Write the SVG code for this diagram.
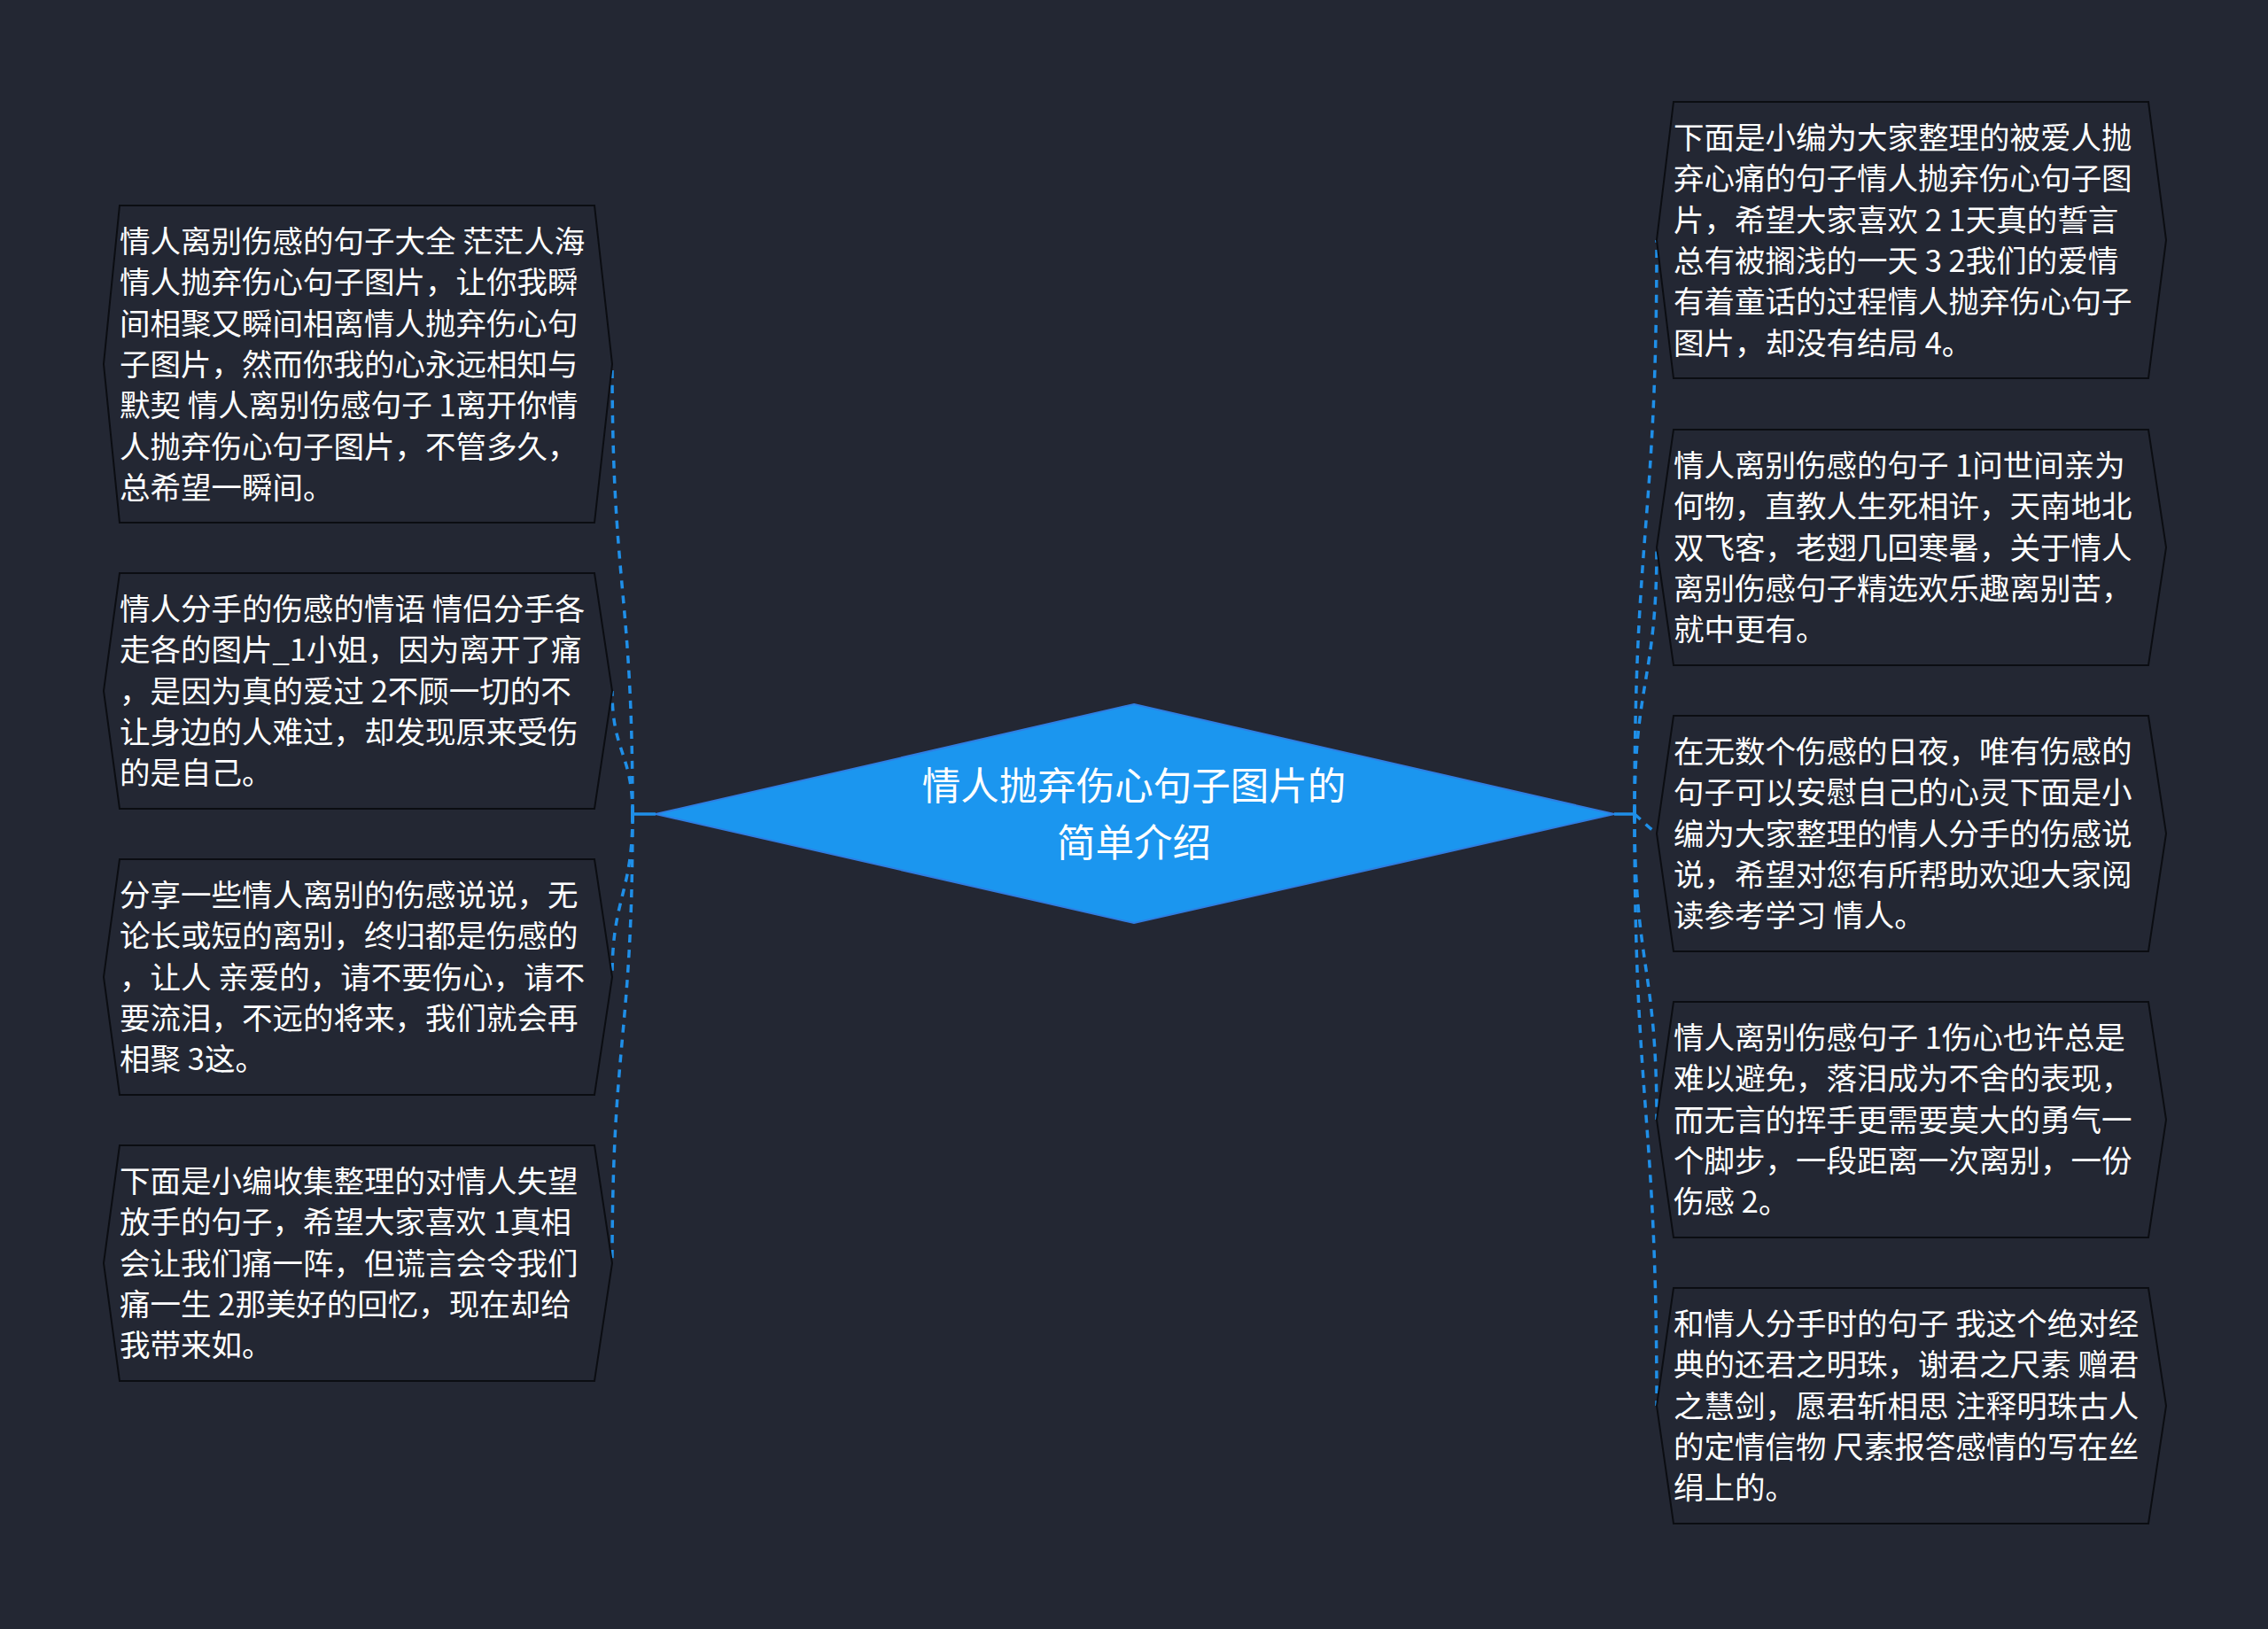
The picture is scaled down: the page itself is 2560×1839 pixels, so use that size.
<svg xmlns="http://www.w3.org/2000/svg" width="2560" height="1839" viewBox="0 0 2560 1839">
<style>
.bg{fill:#232733}
.node{fill:#232733;stroke:#0b0d12;stroke-width:2}
.t{font-family:"Noto Sans CJK SC","Noto Sans",sans-serif;font-size:34.5px;fill:#ffffff}
.ct{font-family:"Noto Sans CJK SC","Noto Sans",sans-serif;font-size:43.5px;fill:#ffffff;text-anchor:middle}
.dash{fill:none;stroke:#1f8fe8;stroke-width:3.5;stroke-dasharray:9 8}
.stub{fill:none;stroke:#1f8fe8;stroke-width:3.5}
</style>
<rect class="bg" x="0" y="0" width="2560" height="1839"/>
<g id="connectors">
<path class="stub" d="M740,919 L714,919 M714,908 L714,930"/>
<path class="stub" d="M1822,919 L1845,919 M1845,908 L1845,930"/>
<path class="dash" d="M714,919 C714,665 691,665 691,411"/>
<path class="dash" d="M714,919 C714,850 691,850 691,780"/>
<path class="dash" d="M714,919 C714,1011 691,1011 691,1103"/>
<path class="dash" d="M714,919 C714,1172 691,1172 691,1426"/>
<path class="dash" d="M1845,919 C1845,595 1870,595 1870,271"/>
<path class="dash" d="M1845,919 C1845,768 1870,768 1870,618"/>
<path class="dash" d="M1845,919 C1852,925 1862,935 1870,941"/>
<path class="dash" d="M1845,919 C1845,1091 1870,1091 1870,1264"/>
<path class="dash" d="M1845,919 C1845,1253 1870,1253 1870,1587"/>
</g>
<g id="center">
<polygon points="1280,795 1822,919 1280,1042 740,919" fill="#1b96ef" stroke="#2f7ee2" stroke-width="2"/>
<text class="ct"><tspan x="1280" y="903">情人抛弃伤心句子图片的</tspan><tspan x="1280" y="967">简单介绍</tspan></text>
</g>
<g id="L1">
<path class="node" d="M135,232 L671,232 L691,411 L671,590 L135,590 L117,411 Z"/>
<text class="t" x="135" y="285">情人离别伤感的句子大全 茫茫人海</text>
<text class="t" x="135" y="331.3">情人抛弃伤心句子图片，让你我瞬</text>
<text class="t" x="135" y="377.6">间相聚又瞬间相离情人抛弃伤心句</text>
<text class="t" x="135" y="423.9">子图片，然而你我的心永远相知与</text>
<text class="t" x="135" y="470.2">默契 情人离别伤感句子 1离开你情</text>
<text class="t" x="135" y="516.5">人抛弃伤心句子图片，不管多久，</text>
<text class="t" x="135" y="562.8">总希望一瞬间。</text>
</g>
<g id="L2">
<path class="node" d="M135,647 L671,647 L691,780 L671,913 L135,913 L117,780 Z"/>
<text class="t" x="135" y="700">情人分手的伤感的情语 情侣分手各</text>
<text class="t" x="135" y="746.3">走各的图片_1小姐，因为离开了痛</text>
<text class="t" x="135" y="792.6">，是因为真的爱过 2不顾一切的不</text>
<text class="t" x="135" y="838.9">让身边的人难过，却发现原来受伤</text>
<text class="t" x="135" y="885.2">的是自己。</text>
</g>
<g id="L3">
<path class="node" d="M135,970 L671,970 L691,1103 L671,1236 L135,1236 L117,1103 Z"/>
<text class="t" x="135" y="1023">分享一些情人离别的伤感说说，无</text>
<text class="t" x="135" y="1069.3">论长或短的离别，终归都是伤感的</text>
<text class="t" x="135" y="1115.6">，让人 亲爱的，请不要伤心，请不</text>
<text class="t" x="135" y="1161.9">要流泪，不远的将来，我们就会再</text>
<text class="t" x="135" y="1208.2">相聚 3这。</text>
</g>
<g id="L4">
<path class="node" d="M135,1293 L671,1293 L691,1426 L671,1559 L135,1559 L117,1426 Z"/>
<text class="t" x="135" y="1346">下面是小编收集整理的对情人失望</text>
<text class="t" x="135" y="1392.3">放手的句子，希望大家喜欢 1真相</text>
<text class="t" x="135" y="1438.6">会让我们痛一阵，但谎言会令我们</text>
<text class="t" x="135" y="1484.9">痛一生 2那美好的回忆，现在却给</text>
<text class="t" x="135" y="1531.2">我带来如。</text>
</g>
<g id="R1">
<path class="node" d="M1889,115 L2425,115 L2445,271 L2425,427 L1889,427 L1870,271 Z"/>
<text class="t" x="1889" y="168">下面是小编为大家整理的被爱人抛</text>
<text class="t" x="1889" y="214.3">弃心痛的句子情人抛弃伤心句子图</text>
<text class="t" x="1889" y="260.6">片，希望大家喜欢 2 1天真的誓言</text>
<text class="t" x="1889" y="306.9">总有被搁浅的一天 3 2我们的爱情</text>
<text class="t" x="1889" y="353.2">有着童话的过程情人抛弃伤心句子</text>
<text class="t" x="1889" y="399.5">图片，却没有结局 4。</text>
</g>
<g id="R2">
<path class="node" d="M1889,485 L2425,485 L2445,618 L2425,751 L1889,751 L1870,618 Z"/>
<text class="t" x="1889" y="538">情人离别伤感的句子 1问世间亲为</text>
<text class="t" x="1889" y="584.3">何物，直教人生死相许，天南地北</text>
<text class="t" x="1889" y="630.6">双飞客，老翅几回寒暑，关于情人</text>
<text class="t" x="1889" y="676.9">离别伤感句子精选欢乐趣离别苦，</text>
<text class="t" x="1889" y="723.2">就中更有。</text>
</g>
<g id="R3">
<path class="node" d="M1889,808 L2425,808 L2445,941 L2425,1074 L1889,1074 L1870,941 Z"/>
<text class="t" x="1889" y="861">在无数个伤感的日夜，唯有伤感的</text>
<text class="t" x="1889" y="907.3">句子可以安慰自己的心灵下面是小</text>
<text class="t" x="1889" y="953.6">编为大家整理的情人分手的伤感说</text>
<text class="t" x="1889" y="999.9">说，希望对您有所帮助欢迎大家阅</text>
<text class="t" x="1889" y="1046.2">读参考学习 情人。</text>
</g>
<g id="R4">
<path class="node" d="M1889,1131 L2425,1131 L2445,1264 L2425,1397 L1889,1397 L1870,1264 Z"/>
<text class="t" x="1889" y="1184">情人离别伤感句子 1伤心也许总是</text>
<text class="t" x="1889" y="1230.3">难以避免，落泪成为不舍的表现，</text>
<text class="t" x="1889" y="1276.6">而无言的挥手更需要莫大的勇气一</text>
<text class="t" x="1889" y="1322.9">个脚步，一段距离一次离别，一份</text>
<text class="t" x="1889" y="1369.2">伤感 2。</text>
</g>
<g id="R5">
<path class="node" d="M1889,1454 L2425,1454 L2445,1587 L2425,1720 L1889,1720 L1870,1587 Z"/>
<text class="t" x="1889" y="1507">和情人分手时的句子 我这个绝对经</text>
<text class="t" x="1889" y="1553.3">典的还君之明珠，谢君之尺素 赠君</text>
<text class="t" x="1889" y="1599.6">之慧剑，愿君斩相思 注释明珠古人</text>
<text class="t" x="1889" y="1645.9">的定情信物 尺素报答感情的写在丝</text>
<text class="t" x="1889" y="1692.2">绢上的。</text>
</g>
</svg>
